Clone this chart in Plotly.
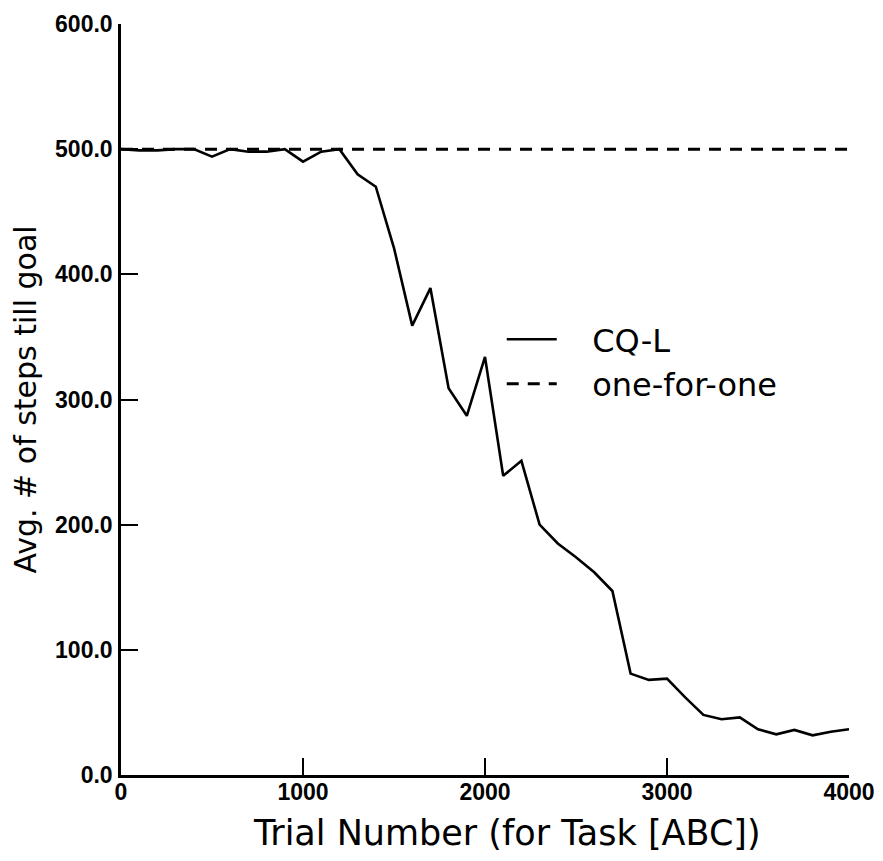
import plotly.graph_objects as go

trials = list(range(0, 4001, 100))
cql = [500, 499, 499, 500, 500, 494, 500, 498, 498, 500,
       490, 498, 500, 480, 470, 421, 359, 389, 309, 287,
       334, 239, 251, 200, 185, 174, 162, 147, 81, 76,
       77, 62, 48, 44.5, 46, 36.5, 32.5, 36, 31.7, 34.6, 36.5]
one_for_one = [500] * len(trials)

x_ticks = [0, 1000, 2000, 3000, 4000]
y_ticks = [0, 100, 200, 300, 400, 500, 600]
y_tick_labels = ["0.0", "100.0", "200.0", "300.0", "400.0", "500.0", "600.0"]
x_title = "Trial Number (for Task [ABC])"
y_title = "Avg. # of steps till goal"

fig = go.Figure()
fig.add_trace(go.Scatter(x=trials, y=cql, mode="lines", name="   CQ-L",
                         line=dict(color="black", width=2.6)))
fig.add_trace(go.Scatter(x=trials, y=one_for_one, mode="lines", name="   one-for-one",
                         line=dict(color="black", width=3, dash="12px,9px")))

tickfont = dict(family="Liberation Sans, Arial, sans-serif", size=23, color="black", weight="bold")
titlefont = "DejaVu Sans, sans-serif"
fig.update_layout(
    width=883, height=861,
    margin=dict(l=113, r=42, t=16, b=94),
    paper_bgcolor="white", plot_bgcolor="white",
    showlegend=True,
    legend=dict(x=0.523, y=0.55, xanchor="left", yanchor="middle",
                font=dict(family=titlefont, size=32, color="black"),
                itemwidth=50, bgcolor="rgba(0,0,0,0)"),
    xaxis=dict(range=[0, 4000], tickmode="array", tickvals=x_ticks,
               ticktext=[str(v) for v in x_ticks], automargin=False,
               ticks="inside", ticklen=17, tickwidth=2, tickcolor="black",
               showline=True, linewidth=2.5, linecolor="black",
               showgrid=False, zeroline=False, tickfont=tickfont,
               ticklabelstandoff=-5),
    yaxis=dict(range=[0, 600], tickmode="array", tickvals=y_ticks, ticktext=y_tick_labels,
               automargin=False,
               ticks="inside", ticklen=17, tickwidth=2, tickcolor="black",
               showline=True, linewidth=2.5, linecolor="black",
               showgrid=False, zeroline=False, tickfont=tickfont,
               ticklabelstandoff=1,
               title=dict(text=y_title, standoff=12,
                          font=dict(family=titlefont, size=30, color="black"))),
)
fig.add_annotation(text=x_title, xref="paper", yref="paper", x=0.53, y=-0.048,
                   xanchor="center", yanchor="top", showarrow=False,
                   font=dict(family=titlefont, size=35, color="black"))
fig.write_html("out.html")
